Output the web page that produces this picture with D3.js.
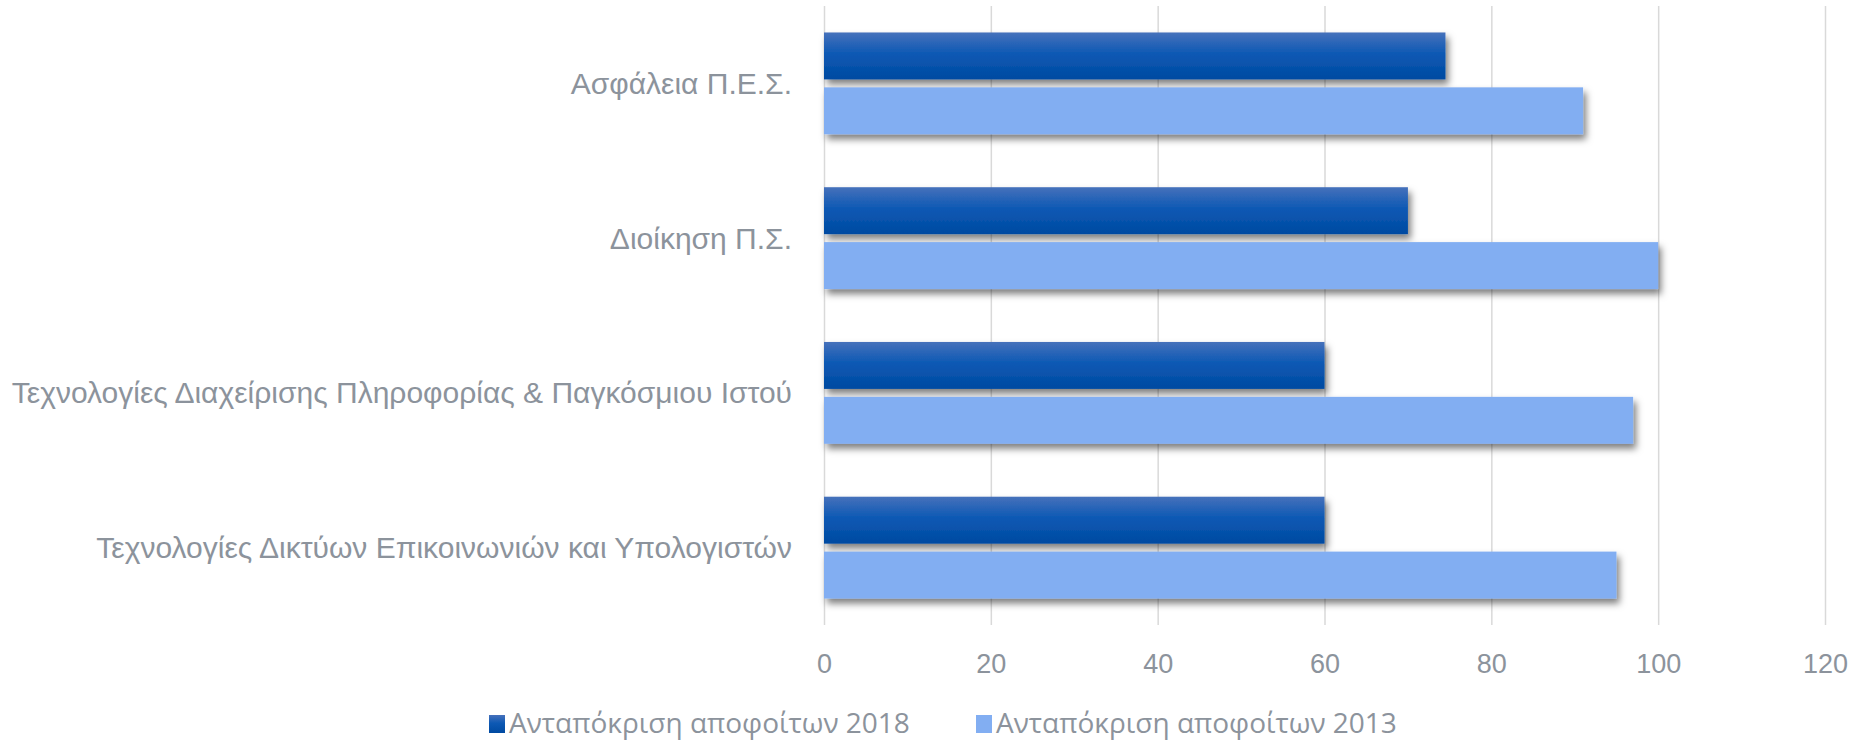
<!DOCTYPE html>
<html>
<head>
<meta charset="utf-8">
<script src="https://cdn.jsdelivr.net/npm/d3@7"></script>
<style>
	body { margin: 0; background: #fff; }
	svg { display: block; font-family: "Open Sans", sans-serif; }
	.tick text { fill: #8c939c; }
</style>
</head>
<body>
<svg id="chart" width="1860" height="744"></svg>
<script>
var categories = ["Ασφάλεια Π.Ε.Σ.", "Διοίκηση Π.Σ.",
	"Τεχνολογίες Διαχείρισης Πληροφορίας & Παγκόσμιου Ιστού",
	"Τεχνολογίες Δικτύων Επικοινωνιών και Υπολογιστών"];
var seriesNames = ["Ανταπόκριση αποφοίτων 2018", "Ανταπόκριση αποφοίτων 2013"];
var values2018 = [74.5, 70, 60, 60];
var values2013 = [91, 100, 97, 95];
var xTicks = [0, 20, 40, 60, 80, 100, 120];

var svg = d3.select("#chart");
var margin = { top: 6, right: 35, bottom: 119, left: 824 };
var width = 1860 - margin.left - margin.right;
var height = 744 - margin.top - margin.bottom;

var defs = svg.append("defs");
var grad = defs.append("linearGradient")
	.attr("id", "darkGrad")
	.attr("x1", 0).attr("y1", 0).attr("x2", 0).attr("y2", 1);
grad.append("stop").attr("offset", "0%").attr("stop-color", "#4671bb");
grad.append("stop").attr("offset", "45%").attr("stop-color", "#0d59b4");
grad.append("stop").attr("offset", "100%").attr("stop-color", "#004aa1");

var shadow = defs.append("filter")
	.attr("id", "shadow")
	.attr("x", "-5%").attr("y", "-30%")
	.attr("width", "110%").attr("height", "170%");
shadow.append("feDropShadow")
	.attr("dx", 3).attr("dy", 5)
	.attr("stdDeviation", 3.5)
	.attr("flood-color", "#000")
	.attr("flood-opacity", 0.5);

var G = svg.append("g")
	.attr("transform", "translate(" + margin.left + "," + margin.top + ")");

var xScale = d3.scaleLinear().domain([0, 120]).range([0, width]);
var yScale = d3.scaleBand().domain(categories).range([0, height])
	.paddingInner(0.342).paddingOuter(0.171);
var subScale = d3.scaleBand().domain(seriesNames).range([0, yScale.bandwidth()])
	.paddingInner(0.145);

// gridlines + tick labels
var xAxis = d3.axisBottom(xScale).tickValues(xTicks).tickSize(height).tickPadding(29);
var gx = G.append("g").attr("class", "xaxis").call(xAxis);
gx.select(".domain").remove();
gx.selectAll(".tick line").attr("stroke", "#d9d9d9").attr("stroke-width", 1.5);
gx.selectAll(".tick text").style("font-size", "27px");

// category labels
var yAxis = d3.axisLeft(yScale).tickSize(0).tickPadding(32);
var gy = G.append("g").attr("class", "yaxis").call(yAxis);
gy.select(".domain").remove();
gy.selectAll(".tick text").style("font-size", "30px").attr("dy", "0.35em");

var rows = categories.map(function(c, i) {
	return [
		{ cat: c, s: seriesNames[0], v: values2018[i] },
		{ cat: c, s: seriesNames[1], v: values2013[i] }
	];
});
var fills = { };
fills[seriesNames[0]] = "url(#darkGrad)";
fills[seriesNames[1]] = "#82aef2";

G.append("g").selectAll("rect")
	.data(rows.flat())
	.join("rect")
	.attr("x", xScale(0))
	.attr("y", d => yScale(d.cat) + subScale(d.s))
	.attr("width", d => xScale(d.v) - xScale(0))
	.attr("height", subScale.bandwidth())
	.attr("fill", d => fills[d.s])
	.attr("filter", "url(#shadow)");

// legend
var legendColors = ["#0a4fa8", "#82aef2"];
var legendX = [489, 976];
var legend = svg.append("g");
for (var i = 0; i < seriesNames.length; i++) {
	legend.append("rect")
		.attr("x", legendX[i])
		.attr("y", 715)
		.attr("width", 16)
		.attr("height", 18)
		.attr("fill", i == 0 ? "url(#darkGrad)" : legendColors[i]);
	legend.append("text")
		.attr("x", legendX[i] + 20)
		.attr("y", 733)
		.text(seriesNames[i])
		.style("font-size", "28px")
		.attr("fill", "#8c939c");
}
</script>
</body>
</html>
